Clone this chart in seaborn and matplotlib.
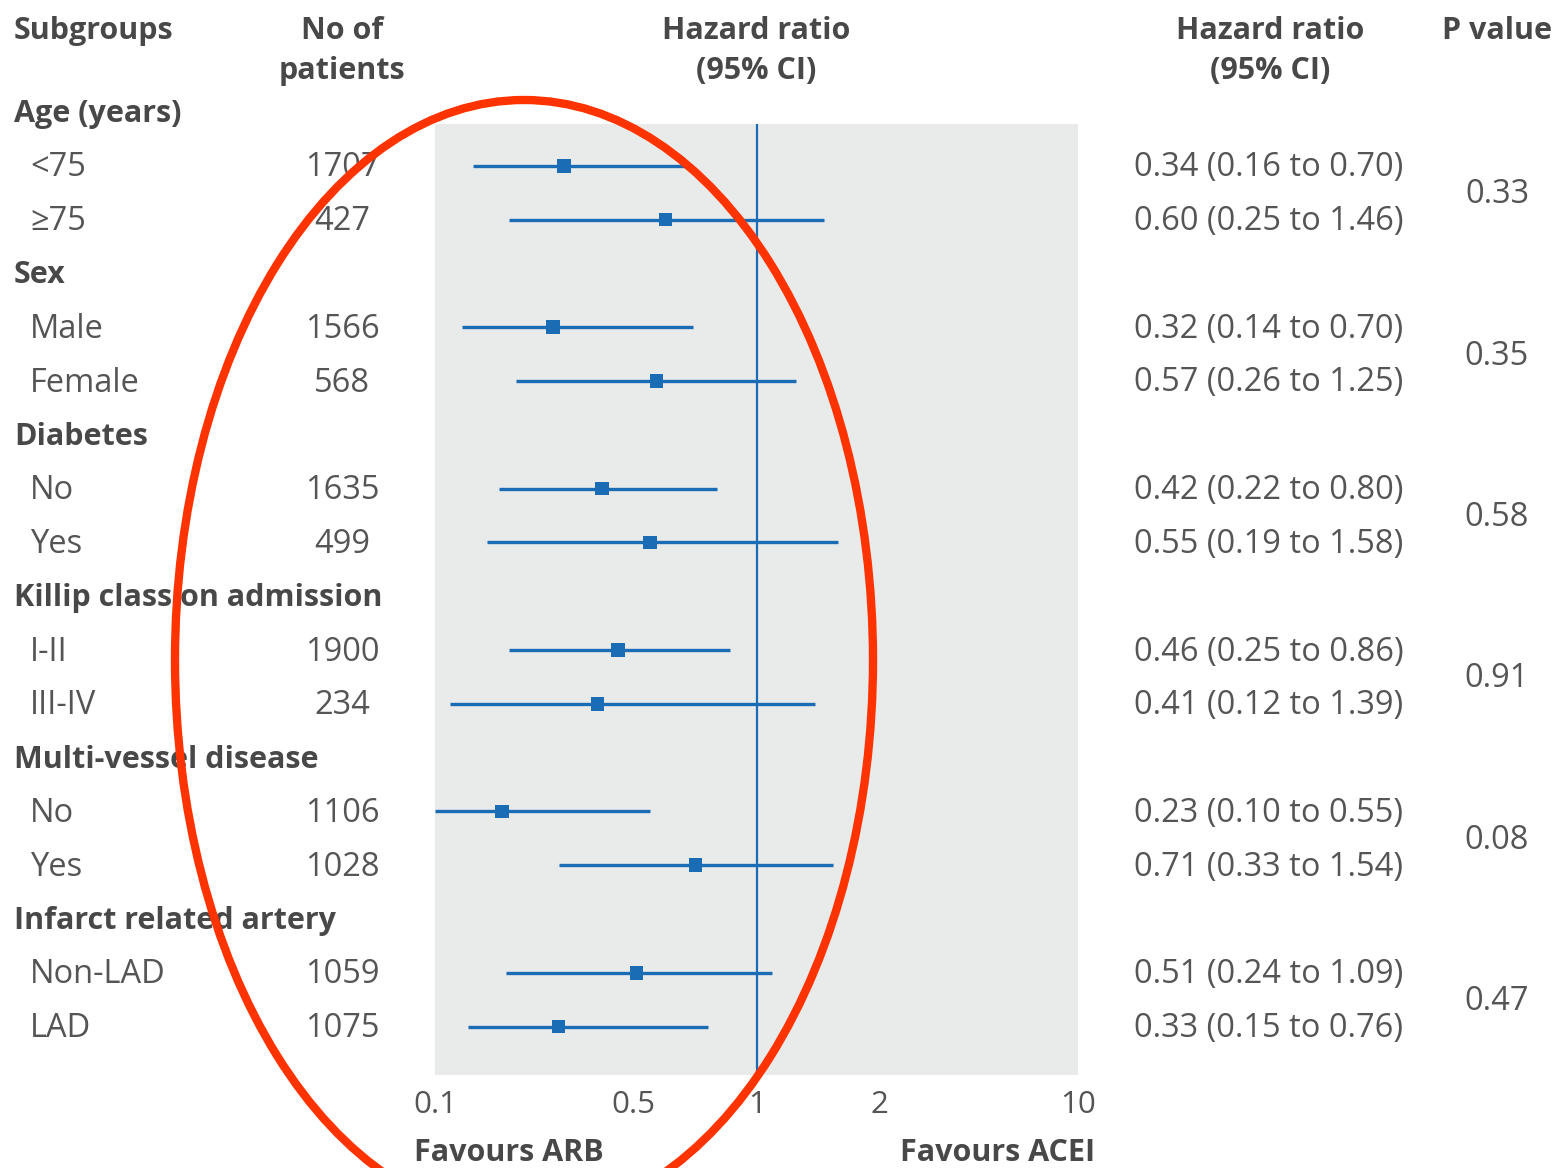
import numpy as np
import matplotlib
matplotlib.use("Agg")
import matplotlib.pyplot as plt
import matplotlib.transforms as mtransforms
from matplotlib.patches import Ellipse
import seaborn as sns

groups = ["Age (years)", "Sex", "Diabetes", "Killip class on admission",
          "Multi-vessel disease", "Infarct related artery"]
subgroups = ["<75", "≥75", "Male", "Female", "No", "Yes", "I-II", "III-IV",
             "No", "Yes", "Non-LAD", "LAD"]
n_patients = [1707, 427, 1566, 568, 1635, 499, 1900, 234, 1106, 1028, 1059, 1075]
hr = [0.34, 0.60, 0.32, 0.57, 0.42, 0.55, 0.46, 0.41, 0.23, 0.71, 0.51, 0.33]
ci_low = [0.16, 0.25, 0.14, 0.26, 0.22, 0.19, 0.25, 0.12, 0.10, 0.33, 0.24, 0.15]
ci_high = [0.70, 1.46, 0.70, 1.25, 0.80, 1.58, 0.86, 1.39, 0.55, 1.54, 1.09, 0.76]
p_values = ["0.33", "0.35", "0.58", "0.91", "0.08", "0.47"]
x_ticks = [0.1, 0.5, 1, 2, 10]
x_tick_labels = ["0.1", "0.5", "1", "2", "10"]

blue = "#1a6db5"
text_col = "#555555"
head_col = "#484848"

sns.set_theme(style="white")
plt.rcParams["font.family"] = ["Open Sans", "DejaVu Sans"]

W, H = 1554, 1168
fig = plt.figure(figsize=(W / 100, H / 100), dpi=100)

# plot panel (pixel box of the grey area)
left, right, top, bottom = 435, 1078, 124, 1075
ax = fig.add_axes([left / W, 1 - bottom / H, (right - left) / W, (bottom - top) / H])
ax.set_facecolor("#e9eaea")
for s in ax.spines.values():
    s.set_visible(False)

# hand-drawn-like axis of the original: log pieces between knots
knot_v = np.log10([0.1, 0.25, 0.5, 1, 2, 10])
knot_p = np.array([0, 74, 198, 322, 444, 643], dtype=float)


def fwd(x):
    x = np.clip(np.asarray(x, dtype=float), 1e-6, None)
    return np.interp(np.log10(x), knot_v, knot_p)


def inv(p):
    return 10 ** np.interp(p, knot_p, knot_v)


ax.set_xscale("function", functions=(fwd, inv))
ax.set_xlim(0.1, 10)

row_h = 53.8
row0 = 112
ax.set_ylim((bottom - row0) / row_h, (top - row0) / row_h)

sub_rows = [3 * (i // 2) + 1 + (i % 2) for i in range(len(subgroups))]
ax.hlines(sub_rows, ci_low, ci_high, color=blue, lw=2.4, zorder=2)
sns.scatterplot(x=hr, y=sub_rows, marker="s", color=blue, s=95,
                edgecolor="none", ax=ax, zorder=3)
ax.axvline(1, color=blue, lw=1.6, zorder=1)

ax.set_xticks(x_ticks)
ax.set_xticklabels(x_tick_labels)
ax.set_yticks([])
ax.minorticks_off()
ax.tick_params(axis="x", direction="in", color="white", length=9, width=2,
               pad=11, labelsize=22.5, labelcolor=text_col)

fs = 23.5
hfs = 22
tr = mtransforms.blended_transform_factory(fig.transFigure, ax.transData)
dy = 2 / row_h  # small baseline nudge


def col(px):
    return px / W


# headers
hy1 = (31 - row0) / row_h
hy2 = (71 - row0) / row_h
hkw = dict(transform=tr, fontsize=hfs, fontweight="bold", color=head_col,
           va="center", clip_on=False)
ax.text(col(14), hy1, "Subgroups", ha="left", **hkw)
ax.text(col(342), hy1, "No of", ha="center", **hkw)
ax.text(col(342), hy2, "patients", ha="center", **hkw)
ax.text(col(756), hy1, "Hazard ratio", ha="center", **hkw)
ax.text(col(756), hy2, "(95% CI)", ha="center", **hkw)
ax.text(col(1270), hy1, "Hazard ratio", ha="center", **hkw)
ax.text(col(1270), hy2, "(95% CI)", ha="center", **hkw)
ax.text(col(1497), hy1, "P value", ha="center", **hkw)

tkw = dict(transform=tr, fontsize=fs, color=text_col, va="center", clip_on=False)
for g, name in enumerate(groups):
    ax.text(col(14), 3 * g + dy, name, ha="left", fontweight="bold",
            color=head_col, transform=tr, fontsize=hfs, va="center", clip_on=False)
    ax.text(col(1497), 3 * g + 1.5 + dy, p_values[g], ha="center", **tkw)

for i, r in enumerate(sub_rows):
    ax.text(col(30), r + dy, subgroups[i], ha="left", **tkw)
    ax.text(col(342), r + dy, str(n_patients[i]), ha="center", **tkw)
    ax.text(col(1269), r + dy,
            f"{hr[i]:.2f} ({ci_low[i]:.2f} to {ci_high[i]:.2f})",
            ha="center", **tkw)

fig.text(414 / W, 1 - 1153 / H, "Favours ARB", ha="left", va="center",
         fontsize=hfs, fontweight="bold", color=head_col)
fig.text(1095 / W, 1 - 1153 / H, "Favours ACEI", ha="right", va="center",
         fontsize=hfs, fontweight="bold", color=head_col)

# red ellipse annotation
ell = Ellipse((524 / W, 1 - 660 / H), 698 / W, 1120 / H, fill=False,
              edgecolor="#ff3300", lw=6, transform=fig.transFigure, zorder=10)
fig.add_artist(ell)

fig.savefig("out.png", dpi=100, facecolor="white")
